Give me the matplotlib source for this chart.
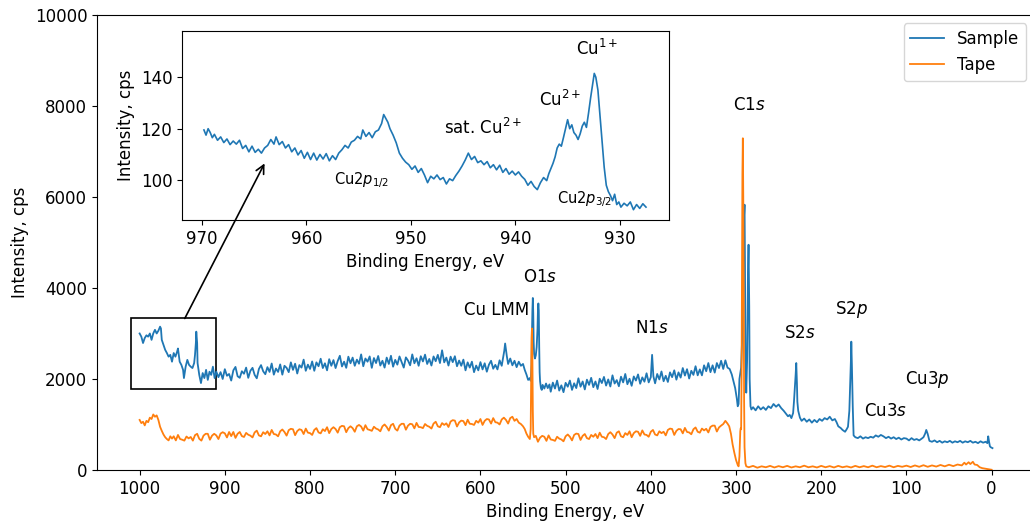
import numpy as np
import matplotlib
matplotlib.use("Agg")
import matplotlib.pyplot as plt
from matplotlib.patches import Rectangle, ConnectionPatch

plt.rcParams['font.size'] = 12

# survey spectrum of the sample (binding energy in eV, intensity in cps)
sample_be = [
    1000, 998, 996, 994, 992, 990, 988, 986, 984, 982, 980, 978, 976, 975, 974, 972, 970, 968, 966, 964,
    962, 960, 958, 956, 955, 953, 951, 949, 948, 946, 944, 942, 940, 938, 936, 935, 934, 933.5, 932.5, 932,
    930, 928, 926, 924, 922, 920, 918, 916, 914, 912, 910, 907.5,
    905, 902.5, 900, 897.5, 895, 892.5, 890, 887.5, 885, 882.5, 880, 877.5, 875, 872.5, 870, 867.5,
    865, 862.5, 860, 857.5, 855, 852.5, 850, 847.5, 845, 842.5, 840, 837.5, 835, 832.5, 830, 827.5,
    825, 822.5, 820, 817.5, 815, 812.5, 810, 807.5, 805, 802.5, 800, 797.5, 795, 792.5, 790, 787.5,
    785, 782.5, 780, 777.5, 775, 772.5, 770, 767.5, 765, 762.5, 760, 757.5, 755, 752.5, 750, 747.5,
    745, 742.5, 740, 737.5, 735, 732.5, 730, 727.5, 725, 722.5, 720, 717.5, 715, 712.5, 710, 707.5,
    705, 702.5, 700, 697.5, 695, 692.5, 690, 687.5, 685, 682.5, 680, 677.5, 675, 672.5, 670, 667.5,
    665, 662.5, 660, 657.5, 655, 652.5, 650, 647.5, 645, 642.5, 640, 637.5, 635, 632.5, 630, 627.5,
    625, 622.5, 620, 617.5, 615, 612.5, 610, 607.5, 605, 602.5, 600, 597.5, 595, 592.5, 590, 587.5,
    585, 582.5, 580, 577.5, 575, 572, 571, 569, 567.5, 565, 562.5, 560, 557.5, 555, 552.5, 550,
    548, 546, 544, 542, 541,
    540, 539.5, 539, 538.5, 538, 537.5, 537, 536, 535, 534, 533, 532.5, 532, 531.5, 531, 530.5, 530, 529,
    528, 527, 525, 523, 521, 519,
    517.5, 515, 512.5, 510, 507.5, 505, 502.5, 500, 497.5, 495, 492.5, 490, 487.5, 485, 482.5, 480,
    477.5, 475, 472.5, 470, 467.5, 465, 462.5, 460, 457.5, 455, 452.5, 450, 447.5, 445, 442.5, 440,
    437.5, 435, 432.5, 430, 427.5, 425, 422.5, 420, 417.5, 415, 412.5, 410, 407.5, 405, 402.5, 400,
    398.5, 397, 395, 392.5, 390, 387.5, 385, 382.5, 380, 377.5, 375, 372.5, 370, 367.5, 365, 362.5,
    360, 357.5, 355, 352.5, 350, 347.5, 345, 342.5, 340, 337.5, 335, 332.5, 330, 327.5, 325, 322.5,
    320, 317.5, 315, 312.5, 310, 307.5, 305,
    303, 301, 299, 298, 297, 296, 295, 294, 293, 292, 291, 290,
    289.5, 289, 288, 287, 286, 285.3, 284.5, 284, 283, 282, 280, 277, 274, 271, 268, 265, 262, 259, 256,
    253, 250, 247, 244, 241, 239, 237, 235, 233, 232, 231, 230, 229.3, 228.5, 228, 227, 225, 223, 220, 217,
    214, 211, 208, 205, 202, 199, 196, 193, 190, 187, 184, 182, 180, 177, 175, 172, 170, 168.6, 167, 166,
    165, 164.7, 164, 163, 162, 160, 157, 154, 151, 148, 145, 142, 139, 136, 133, 130, 127, 124, 121, 118,
    115, 112, 109, 106, 103, 100, 97, 94, 91, 88, 85, 82, 80, 78, 76.7, 75, 73, 70, 67, 64, 61, 58, 55,
    52, 49, 46, 43, 40, 37, 34, 31, 28, 25, 22, 19, 16, 13, 10, 7, 5, 4, 3, 2, 1, 0, -1]
sample_cps = [
    3000, 2930, 2790, 2900, 2960, 2930, 3000, 2860, 3000, 3080, 3000, 3060, 3150, 3110, 2860, 2750, 2640, 2570, 2490, 2530,
    2380, 2570, 2490, 2600, 2670, 2380, 2310, 2200, 2020, 2270, 2420, 2310, 2270, 2240, 2350, 2530, 2790, 3040, 2790, 2350,
    2090, 1910, 2130, 2020, 2200, 1980, 2160, 2090, 2270, 2020, 2160, 2040,
    2150, 2000, 2215, 2070, 2110, 1965, 2190, 2265, 2060, 2025, 2170, 2115, 2250, 2025, 2180, 2245,
    2090, 2015, 2220, 2305, 2170, 2105, 2260, 2155, 2340, 2095, 2230, 2155, 2320, 2095, 2290, 2245,
    2150, 2365, 2200, 2335, 2120, 2305, 2250, 2425, 2180, 2315, 2220, 2385, 2180, 2365, 2280, 2445,
    2240, 2345, 2190, 2435, 2290, 2415, 2240, 2395, 2510, 2275, 2380, 2245, 2490, 2345, 2470, 2290,
    2425, 2335, 2540, 2280, 2450, 2380, 2495, 2245, 2460, 2350, 2505, 2295, 2400, 2250, 2470, 2330,
    2510, 2270, 2420, 2315, 2495, 2370, 2250, 2475, 2405, 2300, 2540, 2345, 2455, 2290, 2500, 2385,
    2535, 2330, 2440, 2295, 2495, 2390, 2530, 2350, 2630, 2365, 2470, 2295, 2490, 2370, 2500, 2280,
    2405, 2290, 2425, 2190, 2365, 2250, 2380, 2150, 2295, 2190, 2370, 2210, 2345, 2160, 2315, 2400,
    2225, 2310, 2210, 2410, 2290, 2620, 2780, 2500, 2330, 2450, 2300, 2400, 2260, 2380, 2290, 2330,
    2200, 2100, 1980, 2020, 1960,
    2300, 3000, 3500, 3780, 3450, 2800, 2550, 2450, 2520, 2700, 3100, 3500, 3660, 3500, 2700, 2150, 1950, 1800,
    1760, 1870, 1790, 1900, 1800, 1880,
    1720, 1920, 1790, 1965, 1745, 1860, 1710, 1915, 1830, 1965, 1760, 1905, 1800, 2015, 1830, 1945,
    1770, 1985, 1870, 2025, 1820, 1945, 1780, 2005, 1910, 2045, 1855, 1990, 1835, 2080, 1900, 1975,
    1840, 2050, 1925, 2110, 1885, 2005, 1850, 2055, 1965, 2100, 1895, 2035, 1940, 2125, 1925, 2040,
    2530, 2060, 1905, 2110, 1990, 2165, 1950, 2070, 1935, 2145, 2040, 2190, 1985, 2145, 2030, 2240,
    2075, 2215, 2010, 2180, 2090, 2280, 2080, 2210, 2080, 2300, 2170, 2350, 2150, 2300, 2140, 2350,
    2240, 2400, 2220, 2410, 2250, 2220, 2100,
    1950, 1800, 1560, 1400, 1450, 2000, 2130, 2250, 2800, 4200, 5400, 5830,
    4500, 2600, 1700, 2400, 4300, 4950, 3600, 2000, 1400, 1330, 1380, 1310, 1400, 1330, 1380, 1320, 1400, 1360, 1450,
    1390, 1440, 1360, 1300, 1230, 1180, 1210, 1140, 1250, 1500, 1800, 2100, 2350, 1900, 1500, 1300, 1150, 1080, 1130, 1060,
    1110, 1040, 1100, 1050, 1120, 1080, 1140, 1110, 1170, 1090, 1120, 1050, 960, 920, 880, 840, 900, 950, 1300, 1900,
    2500, 2820, 2300, 1400, 760, 720, 700, 740, 690, 720, 700, 730, 710, 760, 730, 770, 740, 700, 730, 690,
    720, 680, 710, 670, 700, 690, 650, 700, 660, 680, 650, 690, 720, 800, 880, 790, 640, 620, 650, 610, 640, 600, 630,
    610, 640, 600, 630, 610, 640, 600, 630, 610, 640, 600, 620, 590, 630, 600, 620, 590, 740, 620, 520, 500, 490, 480]

# survey spectrum of the bare tape
tape_be = [
    1000, 998, 996, 994, 992, 990, 988, 986, 984, 982, 980, 978, 976, 974, 972, 970, 968, 966, 964, 962,
    960, 957.5, 955, 952.5, 950, 947.5, 945, 942.5, 940, 937.5, 935, 932.5, 930, 927.5, 925, 922.5,
    920, 917.5, 915, 912.5, 910, 907.5, 905, 902.5, 900, 897.5, 895, 892.5, 890, 887.5, 885, 882.5,
    880, 877.5, 875, 872.5, 870, 867.5, 865, 862.5, 860, 857.5, 855, 852.5, 850, 847.5, 845, 842.5,
    840, 837.5, 835, 832.5, 830, 827.5, 825, 822.5, 820, 817.5, 815, 812.5, 810, 807.5, 805, 802.5,
    800, 797.5, 795, 792.5, 790, 787.5, 785, 782.5, 780, 777.5, 775, 772.5, 770, 767.5, 765, 762.5,
    760, 757.5, 755, 752.5, 750, 747.5, 745, 742.5, 740, 737.5, 735, 732.5, 730, 727.5, 725, 722.5,
    720, 717.5, 715, 712.5, 710, 707.5, 705, 702.5, 700, 697.5, 695, 692.5, 690, 687.5, 685, 682.5,
    680, 677.5, 675, 672.5, 670, 667.5, 665, 662.5, 660, 657.5, 655, 652.5, 650, 647.5, 645, 642.5,
    640, 637.5, 635, 632.5, 630, 627.5, 625, 622.5, 620, 617.5, 615, 612.5, 610, 607.5, 605, 602.5,
    600, 597.5, 595, 592.5, 590, 587.5, 585, 582.5, 580, 577.5, 575, 572.5, 570, 567.5, 565, 562.5,
    560, 557.5, 555, 552.5, 550, 548, 546, 544, 542, 541, 540.5, 540, 539.5, 539, 538.5, 538, 537,
    535, 532.5, 530, 527.5, 525, 522.5, 520, 517.5, 515, 512.5, 510, 507.5, 505, 502.5, 500, 497.5,
    495, 492.5, 490, 487.5, 485, 482.5, 480, 477.5, 475, 472.5, 470, 467.5, 465, 462.5, 460, 457.5,
    455, 452.5, 450, 447.5, 445, 442.5, 440, 437.5, 435, 432.5, 430, 427.5, 425, 422.5, 420, 417.5,
    415, 412.5, 410, 407.5, 405, 402.5, 400, 397.5, 395, 392.5, 390, 387.5, 385, 382.5, 380, 377.5,
    375, 372.5, 370, 367.5, 365, 362.5, 360, 357.5, 355, 352.5, 350, 347.5, 345, 342.5, 340, 337.5,
    335, 332.5, 330, 327.5, 325, 322.5, 320, 317.5,
    315, 312.5, 310, 308, 306, 304, 302, 300, 298, 297,
    296, 295, 294.5, 294, 293.5, 293, 292.5, 292, 291.5, 291, 290.5, 290, 289, 288, 285, 280, 275, 270, 265, 260,
    255, 250, 245, 240, 235, 230, 225, 220, 215, 210, 205, 200, 195, 190, 185, 180, 175, 170, 165, 160,
    155, 150, 145, 140, 135, 130, 125, 120, 115, 110, 105, 100, 95, 90, 85, 80, 75, 70, 65, 60,
    55, 50, 45, 40, 35, 32, 30, 27, 25, 22, 20, 17, 14, 11, 8, 5, 2, 0]
tape_cps = [
    1100, 1030, 1060, 980, 1080, 1050, 1150, 1120, 1220, 1170, 1200, 1100, 950, 860, 780, 720, 680, 650, 740, 690,
    740, 650, 770, 680, 665, 645, 735, 695, 725, 645, 765, 795, 685, 645, 755, 795,
    795, 665, 755, 795, 760, 680, 800, 830, 805, 715, 835, 745, 835, 705, 795, 835,
    745, 725, 815, 775, 755, 715, 825, 865, 760, 740, 830, 790, 850, 760, 880, 790,
    780, 740, 850, 890, 835, 755, 875, 905, 895, 765, 855, 895, 880, 790, 910, 820,
    810, 770, 880, 920, 825, 805, 895, 855, 940, 810, 900, 940, 900, 820, 940, 970,
    960, 830, 920, 960, 920, 840, 960, 990, 955, 865, 985, 895, 880, 860, 950, 910,
    890, 850, 960, 1000, 945, 865, 985, 1015, 905, 865, 975, 1015, 1015, 885, 975, 1015,
    1005, 915, 1035, 945, 940, 920, 1010, 970, 950, 910, 1020, 1060, 960, 940, 1030, 990,
    1025, 945, 1065, 1095, 1085, 955, 1045, 1085, 1075, 985, 1105, 1015, 1010, 990, 1080, 1040,
    1120, 990, 1080, 1120, 1110, 1020, 1140, 1050, 1040, 1000, 1110, 1150, 1100, 1020, 1140, 1170,
    1080, 1120, 1040, 1010, 960, 900, 800, 730, 680, 900, 2000, 2900, 3110, 2500, 1300, 800, 720,
    750, 620, 710, 750, 730, 640, 760, 670, 660, 640, 730, 690, 670, 630, 740, 780,
    730, 650, 770, 800, 790, 660, 750, 790, 700, 680, 770, 730, 790, 700, 820, 730,
    720, 680, 790, 830, 780, 700, 820, 850, 740, 720, 810, 770, 850, 720, 810, 850,
    840, 750, 870, 780, 770, 730, 840, 880, 780, 760, 850, 810, 840, 760, 880, 910,
    900, 770, 860, 900, 895, 805, 925, 835, 825, 785, 895, 935, 840, 820, 910, 870,
    905, 825, 945, 975, 975, 845, 935, 975,
    1010, 1080, 1020, 960, 800, 560, 380, 220, 110, 80,
    300, 850, 920, 900, 2000, 4500, 6500, 7290, 6000, 3500, 1500, 500, 150, 80, 60, 90, 50, 80, 60, 90,
    55, 85, 60, 90, 55, 80, 60, 95, 60, 80, 55, 90, 60, 85, 55, 90, 60, 80, 55, 90,
    60, 85, 60, 95, 60, 85, 65, 95, 60, 90, 70, 95, 65, 100, 70, 105, 70, 100, 75, 110,
    80, 115, 85, 120, 100, 160, 120, 170, 130, 180, 120, 110, 60, 40, 30, 20, 10, 5]

# high-resolution Cu 2p region of the sample
cu2p_be = [
    969.8, 969.6, 969.4, 969.2, 969.0, 968.8, 968.5, 968.2, 967.9, 967.6, 967.3, 967.0, 966.7, 966.4, 966.1,
    965.8, 965.5, 965.2, 964.9, 964.6, 964.3, 964.0, 963.7, 963.4, 963.1, 962.9, 962.6, 962.3, 962.0, 961.7,
    961.4, 961.1, 960.8, 960.5, 960.2, 959.9, 959.6, 959.3, 959.0, 958.7, 958.4, 958.1, 957.8, 957.5, 957.2,
    956.9, 956.6, 956.3, 956.0, 955.7, 955.4, 955.1, 954.8, 954.6, 954.3, 954.0, 953.7, 953.4, 953.1, 952.8,
    952.6, 952.4, 952.2, 952.0, 951.7, 951.4, 951.1, 950.8, 950.5, 950.2, 949.9, 949.6, 949.3, 949.0, 948.7,
    948.4, 948.1, 947.8, 947.5, 947.2, 946.9, 946.6, 946.3, 946.0, 945.7, 945.4, 945.1, 944.8, 944.5, 944.2,
    943.9, 943.6, 943.3, 943.0, 942.7, 942.4, 942.1, 941.8, 941.5, 941.2, 940.9, 940.6, 940.3, 940.0, 939.7,
    939.4, 939.1, 938.8, 938.5, 938.2, 937.9, 937.6, 937.3, 937.0, 936.8, 936.6, 936.4, 936.2, 936.0, 935.8,
    935.6, 935.4, 935.2, 935.0, 934.8, 934.6, 934.4, 934.2, 934.0, 933.8, 933.6, 933.4, 933.2, 933.0, 932.8,
    932.6, 932.45, 932.3, 932.1, 931.9, 931.7, 931.5, 931.3, 931.1, 930.9, 930.7, 930.5, 930.3, 930.1, 929.9,
    929.6, 929.3, 929.0, 928.7, 928.4, 928.1, 927.8, 927.5]
cu2p_cps = [
    119.5, 117.5, 120.0, 118.5, 116.5, 117.8, 115.5, 116.8, 114.6, 116.0, 113.8, 115.2, 114.0, 115.5, 112.3,
    113.5, 111.0, 113.2, 110.8, 112.0, 110.5, 112.5, 113.5, 115.8, 114.0, 116.8, 113.8, 115.0, 112.5, 113.8,
    111.0, 112.5, 109.8, 111.5, 108.5, 110.8, 108.0, 110.5, 107.8, 110.0, 108.2, 110.3, 107.5, 109.5, 108.0,
    110.5, 111.8, 113.5, 112.5, 114.8, 115.5, 117.0, 116.0, 119.5, 117.0, 118.5, 116.5, 118.8, 119.5, 122.0,
    125.5, 124.0, 122.5, 120.0, 117.5, 114.5, 110.5, 108.5, 107.0, 106.0, 104.2, 105.5, 103.0, 104.5, 102.0,
    99.0, 101.5, 100.5, 102.0, 100.2, 101.0, 98.5, 100.5, 99.8, 101.8, 103.5, 105.5, 107.8, 110.5, 108.0,
    109.2, 106.8, 107.5, 106.0, 107.2, 104.8, 106.0, 104.0, 105.8, 103.0, 104.5, 102.3, 103.5, 102.0, 103.2,
    101.5, 100.3, 98.0, 99.5, 97.5, 96.3, 99.0, 101.0, 99.8, 102.5, 104.5, 106.5, 109.0, 112.5, 114.0,
    113.2, 116.5, 120.0, 123.5, 120.0, 121.5, 118.5, 117.5, 115.8, 118.0, 121.0, 122.5, 120.5, 126.0, 132.0,
    137.5, 141.5, 140.0, 135.0, 125.0, 115.0, 105.0, 98.0, 95.5, 94.0, 92.0, 94.5, 90.5, 91.5, 89.5,
    91.0, 90.0, 91.5, 88.5, 90.5, 89.0, 90.8, 89.5]

# peak labels on the survey (label, energy, cps)
survey_labels = ["O1$s$", "Cu LMM", "N1$s$", "C1$s$", "S2$s$", "S2$p$", "Cu3$s$", "Cu3$p$"]
survey_label_be = [530, 581, 399, 284, 225, 164, 124, 76]
survey_label_cps = [4250, 3520, 3120, 8020, 3010, 3520, 1300, 1980]

cu2p_labels = ["Cu$^{1+}$", "Cu$^{2+}$", "sat. Cu$^{2+}$", "Cu2$p_{1/2}$", "Cu2$p_{3/2}$"]
cu2p_label_be = [932.2, 935.7, 943.1, 954.7, 933.4]
cu2p_label_cps = [150.9, 131.0, 120.2, 100.0, 92.6]
cu2p_label_size = [12, 12, 12, 10.5, 10.5]

fig = plt.figure(figsize=(10.3, 5.25), dpi=100)
ax = fig.add_axes([0.0942, 0.1048, 0.9099, 0.8667])
ax.plot(sample_be, sample_cps, color='C0', lw=1.3, label='Sample')
ax.plot(tape_be, tape_cps, color='C1', lw=1.3, label='Tape')
ax.set_xlim(1050, -50)
ax.set_ylim(0, 10000)
ax.set_xticks(np.arange(0, 1001, 100))
ax.set_yticks(np.arange(0, 10001, 2000))
ax.set_xlabel("Binding Energy, eV")
ax.set_ylabel("Intensity, cps")
ax.legend(loc='upper right')
for txt, x, y in zip(survey_labels, survey_label_be, survey_label_cps):
    ax.text(x, y, txt, ha='center', va='center')

# box around the Cu 2p region
ax.add_patch(Rectangle((910, 1775), 100, 1555, fill=False, ec='k', lw=1.2))

axins = fig.add_axes([0.1767, 0.581, 0.4728, 0.360])
axins.plot(cu2p_be, cu2p_cps, color='C0', lw=1.2)
axins.set_xlim(971.9, 925.3)
axins.set_ylim(84.5, 158)
axins.set_xticks([970, 960, 950, 940, 930])
axins.set_yticks([100, 120, 140])
axins.set_xlabel("Binding Energy, eV")
axins.set_ylabel("Intensity, cps")
for txt, x, y, fs in zip(cu2p_labels, cu2p_label_be, cu2p_label_cps, cu2p_label_size):
    axins.text(x, y, txt, ha='center', va='center', fontsize=fs)

arrow = ConnectionPatch(xyA=(947, 3330), coordsA=ax.transData,
                        xyB=(964, 106.5), coordsB=axins.transData,
                        arrowstyle='->', color='k', lw=1.2, mutation_scale=15)
fig.add_artist(arrow)

fig.savefig("out.png", dpi=100)
